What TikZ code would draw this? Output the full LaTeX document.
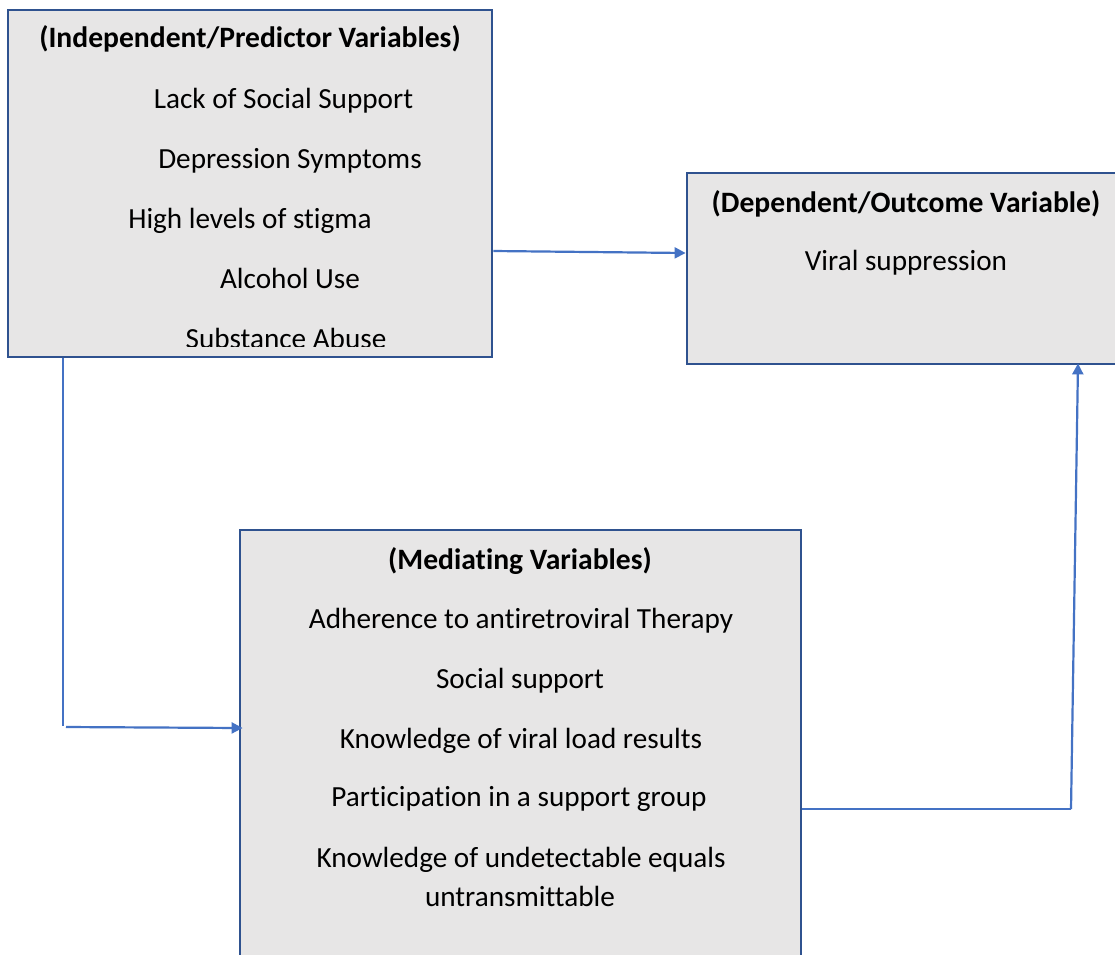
\documentclass[tikz,border=0pt]{standalone}
\usepackage{fontspec}
\setmainfont[Ligatures=NoCommon]{Carlito}
\usetikzlibrary{arrows.meta}
\definecolor{boxline}{HTML}{2F528F}
\definecolor{boxfill}{HTML}{E7E6E6}
\definecolor{arrowblue}{HTML}{4472C4}
\tikzset{
  varbox/.style={draw=boxline, fill=boxfill, line width=2.8pt, inner sep=0pt},
  txt/.style={anchor=base, inner sep=0pt, font=\fontsize{29.2}{35}\selectfont},
  ttl/.style={txt, font=\fontsize{29.6}{35}\selectfont\bfseries},
  conn/.style={draw=arrowblue, line width=2.2pt},
  thinconn/.style={draw=arrowblue, line width=1.1pt},
  arr/.style={conn, -{Triangle[length=11pt,width=11pt]}}
}
\begin{document}
\begin{tikzpicture}[x=1pt,y=-1pt]
\clip (0,0) rectangle (1115,954);
\fill[white] (0,0) rectangle (1115,954);
% boxes
\node[varbox, minimum width=484pt, minimum height=347pt] (indep) at (250,183.5) {};
\node[varbox, minimum width=443pt, minimum height=191pt] (dep) at (908.5,268.5) {};
\node[varbox, minimum width=561pt, minimum height=440pt] (med) at (520.5,750) {};
% texts box 1
\node[ttl] (t1) at (250,47) {(Independent/Predictor Variables)};
\node[txt] (i1) at (283.5,108) {Lack of Social Support};
\node[txt] (i2) at (290,168) {Depression Symptoms};
\node[txt] (i3) at (250,228) {High levels of stigma};
\node[txt] (i4) at (290,288) {Alcohol Use};
\begin{scope}
\clip (10,12) rectangle (490,346);
\node[txt] (i5) at (286,348) {Substance Abuse};
\end{scope}
% texts box 2
\node[ttl] (t2) at (906,212) {(Dependent/Outcome Variable)};
\node[txt] (d1) at (906,270) {Viral suppression};
% texts box 3
\node[ttl] (t3) at (520,569) {(Mediating Variables)};
\node[txt] (m1) at (521,628) {Adherence to antiretroviral Therapy};
\node[txt] (m2) at (520,688) {Social support};
\node[txt] (m3) at (521,748) {Knowledge of viral load results};
\node[txt] (m4) at (519,806) {Participation in a support group};
\node[txt] (m5) at (521,867) {Knowledge of undetectable equals};
\node[txt] (m6) at (520,906) {untransmittable};
% connectors
\coordinate (c1) at (63,726);
\coordinate (c2) at (66,727);
\coordinate (c3) at (1071,809);
\draw[arr] (indep.east |- 0,251) -- (dep.west |- 0,253);
\draw[thinconn] (indep.south -| c1) -- (c1);
\draw[arr] (c2) -- ([xshift=4pt]med.west |- 0,728);
\draw[conn] (med.east |- c3) -- (c3);
\draw[arr] (c3) -- ([yshift=2pt]dep.south -| 1078,0);
\end{tikzpicture}
\end{document}
